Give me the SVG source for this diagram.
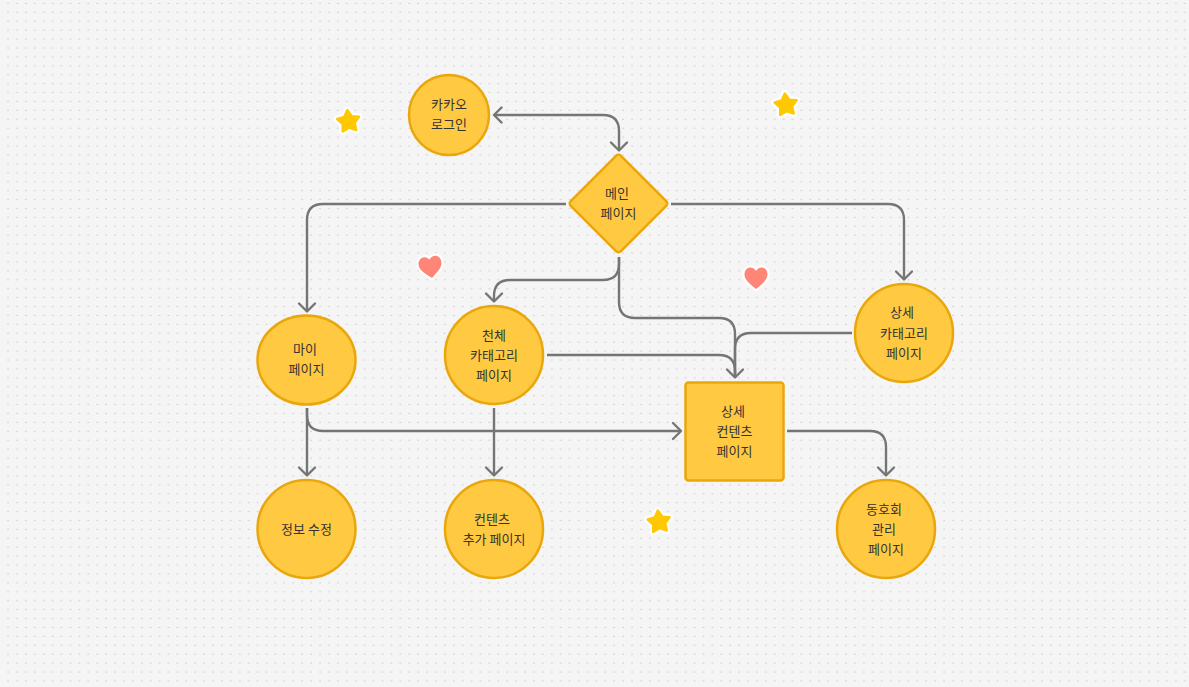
<svg xmlns="http://www.w3.org/2000/svg" width="1189" height="687" viewBox="0 0 1189 687">
<style>
.n{fill:#ffc942;stroke:#e9a70c;stroke-width:2.5}
.c{fill:none;stroke:#757575;stroke-width:2.4;stroke-linejoin:round}
.h{fill:none;stroke:#757575;stroke-width:2.4;stroke-linecap:round;stroke-linejoin:round}
text{font-family:"Noto Sans CJK KR","Noto Sans",sans-serif;font-size:13px;fill:#333;text-anchor:middle}
.star{fill:#ffc800;stroke:#ffc800;stroke-width:2.500;stroke-linejoin:round}
.star-b{fill:#fff;stroke:#fff;stroke-width:7;stroke-linejoin:round}
.heart{fill:#ff8577}
.heart-b{fill:#fff;stroke:#fff;stroke-width:4.500;stroke-linejoin:round}
</style>
<defs>
<pattern id="d" x="0" y="0" width="8.915" height="8.915" patternUnits="userSpaceOnUse"><rect x="7.400" y="2.800" width="1.200" height="1.200" fill="#c2c2c2"/></pattern>
<path id="s" d="M0-11.500 3.800-5 11-3.600 6 1.900 6.800 9.200 0 6.200-6.800 9.200-6 1.900-11-3.600-3.800-5Z"/>
<path id="ht" d="M0 11C-4.500 7-11.500 2.500-11.500-3.500C-11.500-8-8.500-10.500-5.800-10.500C-3-10.500-1-8.700 0-7.200C1-8.700 3-10.500 5.800-10.500C8.500-10.500 11.500-8 11.500-3.500C11.500 2.500 4.500 7 0 11Z"/>
</defs>
<rect width="1189" height="687" fill="#f5f5f5"/>
<rect width="1189" height="687" fill="url(#d)"/>
<g id="connectors">
<path class="c" d="M495 115H603Q619 115 619 131V150"/>
<path class="h" d="M501.500 107.500 494 115 501.500 122.500M611 142.500 619 150.500 627 142.500"/>
<path class="c" d="M566 204H323Q307 204 307 220V311"/>
<path class="h" d="M299 303.500 307 311.500 315 303.500"/>
<path class="c" d="M671 204H888Q904 204 904 220V279"/>
<path class="h" d="M896 271.500 904 279.500 912 271.500"/>
<path class="c" d="M619 257V264Q619 280 603 280H510Q494 280 494 296V301"/>
<path class="h" d="M486 293.500 494 301.500 502 293.500"/>
<path class="c" d="M619 257V302Q619 318 635 318H719Q735 318 735 334V377"/>
<path class="c" d="M547 355H719Q735 355 735 371V377"/>
<path class="c" d="M852 333H751Q735 333 735 349V377"/>
<path class="h" d="M727 369.500 735 377.500 743 369.500"/>
<path class="c" d="M307 408V415Q307 431 323 431H680"/>
<path class="h" d="M673 423 681 431 673 439"/>
<path class="c" d="M307 408V475"/>
<path class="h" d="M299 467.500 307 475.500 315 467.500"/>
<path class="c" d="M494 408V475"/>
<path class="h" d="M486 467.500 494 475.500 502 467.500"/>
<path class="c" d="M787 431H870Q886 431 886 447V475"/>
<path class="h" d="M878 467.500 886 475.500 894 467.500"/>
</g>
<g id="kakao"><circle class="n" cx="449" cy="115" r="40"/><text x="449" y="109">카카오</text><text x="449" y="129">로그인</text></g>
<g id="main"><rect class="n" x="583" y="168" width="71" height="71" rx="3.500" transform="rotate(45 618.500 203.500)"/><text x="617" y="198">메인</text><text x="618.500" y="218">페이지</text></g>
<g id="my"><ellipse class="n" cx="306.500" cy="360" rx="49" ry="44.500"/><text x="305" y="354">마이</text><text x="306.500" y="374">페이지</text></g>
<g id="all"><circle class="n" cx="494" cy="355" r="49"/><text x="494" y="340">천체</text><text x="494" y="360">카태고리</text><text x="494" y="380">페이지</text></g>
<g id="cat"><circle class="n" cx="904" cy="333" r="49"/><text x="902" y="317">상세</text><text x="904" y="338">카태고리</text><text x="904" y="358">페이지</text></g>
<g id="detail"><rect class="n" x="685.500" y="382.500" width="98" height="98" rx="3"/><text x="733" y="416">상세</text><text x="734.500" y="436">컨텐츠</text><text x="734.500" y="456">페이지</text></g>
<g id="edit"><circle class="n" cx="306.500" cy="529" r="49"/><text x="306.500" y="534">정보 수정</text></g>
<g id="add"><circle class="n" cx="494" cy="529" r="49"/><text x="492" y="524">컨텐츠</text><text x="494" y="544">추가 페이지</text></g>
<g id="club"><circle class="n" cx="886" cy="529" r="49"/><text x="884" y="514">동호회</text><text x="884" y="534">관리</text><text x="886" y="554">페이지</text></g>
<g transform="translate(348.500 121.500) rotate(-6)"><use class="star-b" href="#s"/><use class="star" href="#s"/></g>
<g transform="translate(786 105) rotate(-6)"><use class="star-b" href="#s"/><use class="star" href="#s"/></g>
<g transform="translate(659 522) rotate(-6)"><use class="star-b" href="#s"/><use class="star" href="#s"/></g>
<g transform="translate(430.500 267) rotate(-8)"><use class="heart-b" href="#ht"/><use class="heart" href="#ht"/></g>
<g transform="translate(756 278)"><use class="heart-b" href="#ht"/><use class="heart" href="#ht"/></g>
</svg>
